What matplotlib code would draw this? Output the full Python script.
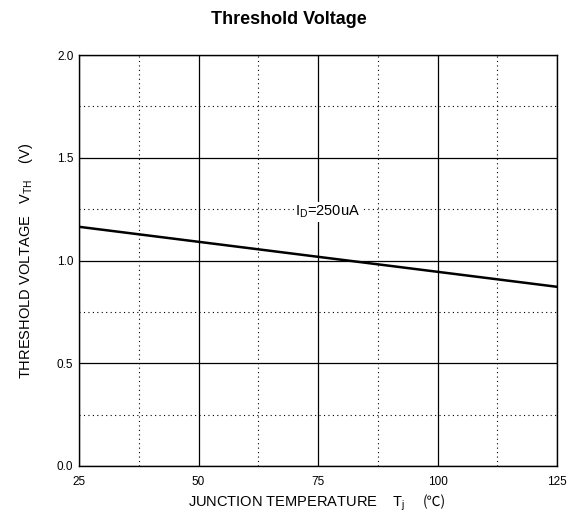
import matplotlib
matplotlib.use("Agg")
import matplotlib.pyplot as plt

plt.rcParams["font.family"] = ["Liberation Sans", "DejaVu Sans"]

# data
temp_c = [25, 125]
vth_v = [1.164, 0.872]
x_major = [25, 50, 75, 100, 125]
x_minor = [37.5, 62.5, 87.5, 112.5]
y_major = [0.0, 0.5, 1.0, 1.5, 2.0]
y_minor = [0.25, 0.75, 1.25, 1.75]

fig = plt.figure(figsize=(5.78, 5.18), dpi=100)
ax = fig.add_axes([79 / 578, 1 - 466 / 518, 478 / 578, 411 / 518])

ax.set_xlim(25, 125)
ax.set_ylim(0, 2.0)
ax.set_xticks(x_major)
ax.set_xticks(x_minor, minor=True)
ax.set_yticks(y_major)
ax.set_yticks(y_minor, minor=True)
ax.set_xticklabels([str(v) for v in x_major], fontsize=8.5)
ax.set_yticklabels([f"{v:.1f}" for v in y_major], fontsize=8.5)
ax.tick_params(which="both", length=0, pad=4)
ax.tick_params(axis="x", pad=7)

ax.grid(True, which="major", color="black", linewidth=0.9)
ax.grid(True, which="minor", color="black", linestyle=(0, (1, 3)), linewidth=0.8)
for sp in ax.spines.values():
    sp.set_linewidth(1.0)

ax.plot(temp_c, vth_v, color="black", linewidth=1.8)

ax.text(70.2, 1.236, r"I$_\mathregular{D}$=250uA", fontsize=10.5, va="center", ha="left",
        bbox=dict(facecolor="white", edgecolor="none", pad=1))

fig.text(0.5, 0.962, "Threshold Voltage", ha="center", va="center",
         fontsize=13, fontweight="bold")
ax.set_ylabel(r"THRESHOLD VOLTAGE   V$_\mathregular{TH}$    (V)", fontsize=10.5, labelpad=16)

# x label in two pieces so the ℃ sign gets a font that has it
fig.canvas.draw()
r = fig.canvas.get_renderer()
ylab = 1 - 506 / 518
t1 = fig.text(188 / 578, ylab, r"JUNCTION TEMPERATURE    T$_\mathregular{j}$     ",
              fontsize=10.5, ha="left", va="baseline")
w1 = t1.get_window_extent(r).width / fig.bbox.width
fig.text(188 / 578 + w1, ylab, "(℃)", fontsize=10, ha="left", va="baseline",
         family=["Noto Sans CJK JP", "DejaVu Sans"])

fig.savefig("out.png", dpi=100)
